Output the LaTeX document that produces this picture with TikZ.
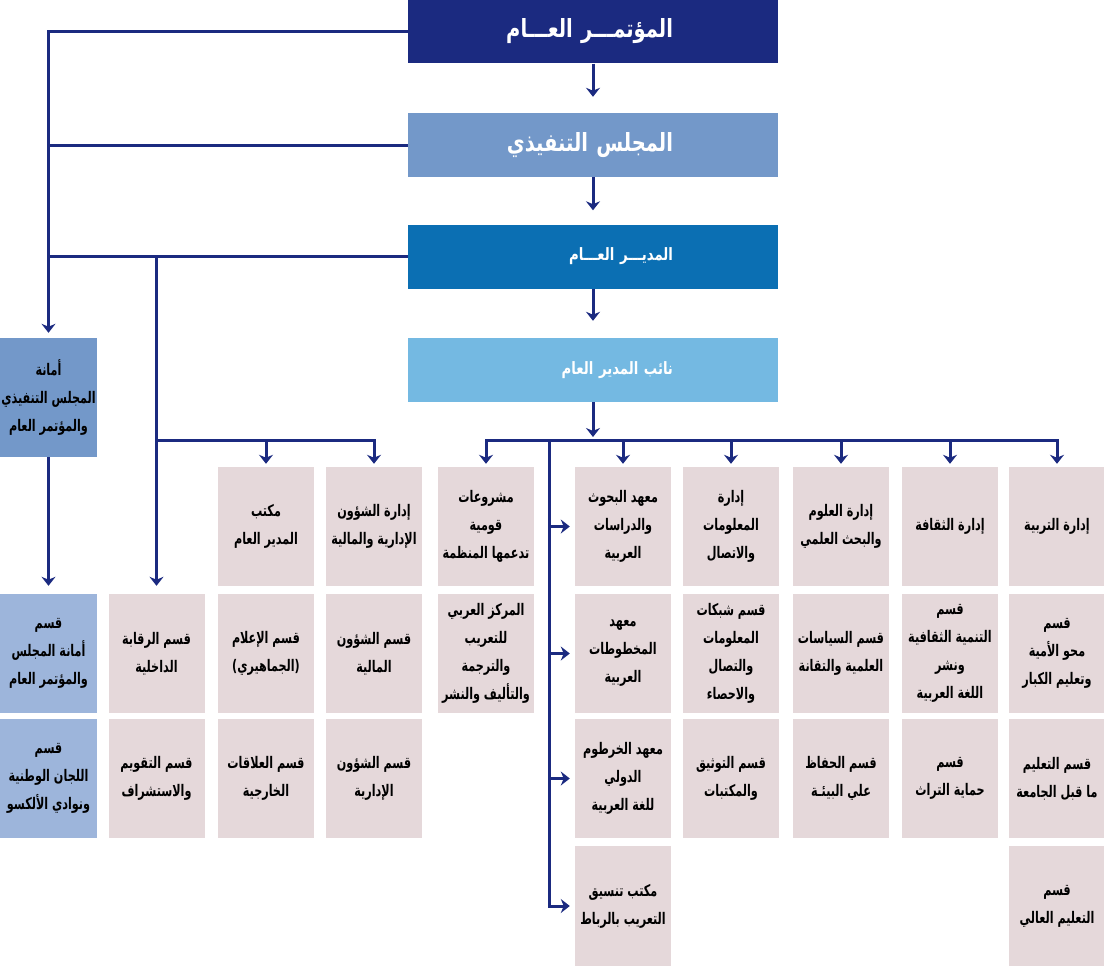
\documentclass[tikz,border=0pt]{standalone}
\usepackage{fontspec}
\usetikzlibrary{arrows.meta}
\TeXXeTstate=1
\newfontfamily\arabicfont[Script=Arabic, FakeStretch=0.7]{DejaVu Sans}
\newfontfamily\headfont[Script=Arabic, FakeStretch=0.78]{DejaVu Sans}
\definecolor{navy}{HTML}{1B2A80}
\definecolor{councilblue}{HTML}{7398C9}
\definecolor{dgblue}{HTML}{0B6FB3}
\definecolor{deputyblue}{HTML}{74B9E2}
\definecolor{secblue}{HTML}{9DB5DB}
\definecolor{unitpink}{HTML}{E5D8DA}
\newcommand{\rtl}[1]{\beginR #1\endR}
\newcommand{\headtext}[1]{\rtl{#1}\hspace*{52pt}}
\tikzset{
  head/.style={fill=#1, text=white, text width=264pt, inner xsep=53pt, inner ysep=0pt,
    minimum height=64pt, align=right, font=\headfont\bfseries\fontsize{25}{28}\selectfont},
  unit/.style={fill=unitpink, minimum width=96pt, minimum height=119pt, inner sep=1pt,
    align=center, font=\arabicfont\bfseries\fontsize{16}{28}\selectfont},
  link/.style={draw=navy, line width=3pt},
}
\begin{document}
\begin{tikzpicture}[x=1pt, y=-1pt, >={Stealth[length=9pt,width=14pt]}]
\useasboundingbox (0,0) rectangle (1104,966);
% main chain
\node[head=navy] (conf) at (593,31.5) {\headtext{المؤتمـــر العـــام}};
\node[head=councilblue] (exec) at (593,145) {\headtext{المجلس التنفيذي}};
\node[head=dgblue, font=\headfont\bfseries\fontsize{17}{20}\selectfont] (dg) at (593,256.5) {\headtext{المديـــر العـــام}};
\node[head=deputyblue, font=\headfont\bfseries\fontsize{17}{20}\selectfont] (ddg) at (593,370) {\headtext{نائب المدير العام}};
% secretariat
\node[unit, fill=councilblue, minimum width=97pt] (amana) at (48.5,397.5) {\rtl{أمانة}\\\rtl{المجلس التنفيذي}\\\rtl{والمؤتمر العام}};
\node[unit, fill=secblue, minimum width=97pt] (amanaA) at (48.5,653.5) {\rtl{قسم}\\\rtl{أمانة المجلس}\\\rtl{والمؤتمر العام}};
\node[unit, fill=secblue, minimum width=97pt] (amanaB) at (48.5,778.5) {\rtl{قسم}\\\rtl{اللجان الوطنية}\\\rtl{ونوادي الألكسو}};
% director general units
\node[unit] (ctrl) at (156.5,653.5) {\rtl{قسم الرقابة}\\\rtl{الداخلية}};
\node[unit] (evalu) at (156.5,778.5) {\rtl{قسم التقويم}\\\rtl{والاستشراف}};
\node[unit] (dgoff) at (266,526.5) {\rtl{مكتب}\\\rtl{المدير العام}};
\node[unit] (media) at (266,653.5) {\rtl{قسم الإعلام}\\\rtl{(الجماهيري)}};
\node[unit] (extrel) at (266,778.5) {\rtl{قسم العلاقات}\\\rtl{الخارجية}};
\node[unit] (adm) at (374,526.5) {\rtl{إدارة الشؤون}\\\rtl{الإدارية والمالية}};
\node[unit] (fin) at (374,653.5) {\rtl{قسم الشؤون}\\\rtl{المالية}};
\node[unit] (admaff) at (374,778.5) {\rtl{قسم الشؤون}\\\rtl{الإدارية}};
% deputy units
\node[unit] (proj) at (486,526.5) {\rtl{مشروعات}\\\rtl{قومية}\\\rtl{تدعمها المنظمة}};
\node[unit] (arab) at (486,653.5) {\rtl{المركز العربي}\\\rtl{للتعريب}\\\rtl{والترجمة}\\\rtl{والتأليف والنشر}};
\node[unit] (bhouth) at (623,526.5) {\rtl{معهد البحوث}\\\rtl{والدراسات}\\\rtl{العربية}};
\node[unit] (makht) at (623,653.5) {\rtl{معهد}\\\rtl{المخطوطات}\\\rtl{العربية}};
\node[unit] (khart) at (623,778.5) {\rtl{معهد الخرطوم}\\\rtl{الدولي}\\\rtl{للغة العربية}};
\node[unit, minimum height=120pt] (rabat) at (623,906) {\rtl{مكتب تنسيق}\\\rtl{التعريب بالرباط}};
\node[unit] (info) at (731,526.5) {\rtl{إدارة}\\\rtl{المعلومات}\\\rtl{والاتصال}};
\node[unit] (netw) at (731,653.5) {\rtl{قسم شبكات}\\\rtl{المعلومات}\\\rtl{والتصال}\\\rtl{والاحصاء}};
\node[unit] (docu) at (731,778.5) {\rtl{قسم التوثيق}\\\rtl{والمكتبات}};
\node[unit] (sci) at (841,526.5) {\rtl{إدارة العلوم}\\\rtl{والبحث العلمي}};
\node[unit] (policy) at (841,653.5) {\rtl{قسم السياسات}\\\rtl{العلمية والتقانة}};
\node[unit] (envir) at (841,778.5) {\rtl{قسم الحفاظ}\\\rtl{علي البيئـة}};
\node[unit] (cult) at (950,526.5) {\rtl{إدارة الثقافة}};
\node[unit] (culdev) at (950,653.5) {\rtl{قسم}\\\rtl{التنمية الثقافية}\\\rtl{ونشر}\\\rtl{اللغة العربية}};
\node[unit] (herit) at (950,778.5) {\rtl{قسم}\\\rtl{حماية التراث}};
\node[unit] (edu) at (1057,526.5) {\rtl{إدارة التربية}};
\node[unit] (illit) at (1057,653.5) {\rtl{قسم}\\\rtl{محو الأمية}\\\rtl{وتعليم الكبار}};
\node[unit] (preuni) at (1057,778.5) {\rtl{قسم التعليم}\\\rtl{ما قبل الجامعة}};
\node[unit, minimum height=120pt] (higher) at (1057,906) {\rtl{قسم}\\\rtl{التعليم العالي}};
% connectors
\draw[link,->,shorten >=16pt] (conf) -- (exec);
\draw[link,->,shorten >=14pt] (exec) -- (dg);
\draw[link,->,shorten >=17pt] (dg) -- (ddg);
\draw[link,->,shorten >=5pt] (conf.west) -| (amana.north);
\draw[link] (exec.west) -- (exec.west -| amana.north);
\draw[link] (dg.west) -- (dg.west -| amana.north);
\draw[link,->,shorten >=8pt] (amana) -- (amanaA);
\draw[link,->,shorten >=8pt] (dg.west -| ctrl.north) -- (ctrl.north);
\coordinate (lbar) at (156.5,440);
\draw[link,->,shorten >=3pt] (lbar) -| (dgoff.north);
\draw[link,->,shorten >=3pt] (lbar) -| (adm.north);
\coordinate (rbar) at (593,440);
\coordinate (spine) at (549,440);
\draw[link,->,shorten >=3pt] (ddg) -- (rbar);
\draw[link,->,shorten >=3pt] (rbar) -| (proj.north);
\draw[link,->,shorten >=3pt] (rbar) -| (edu.north);
\foreach \n in {bhouth,info,sci,cult}
  \draw[link,->,shorten >=3pt] (\n.north |- rbar) -- (\n.north);
\draw[link,->,shorten >=5pt] (spine) |- (rabat.west);
\foreach \n in {bhouth,makht,khart}
  \draw[link,->,shorten >=5pt] (spine |- \n.west) -- (\n.west);
\end{tikzpicture}
\end{document}
